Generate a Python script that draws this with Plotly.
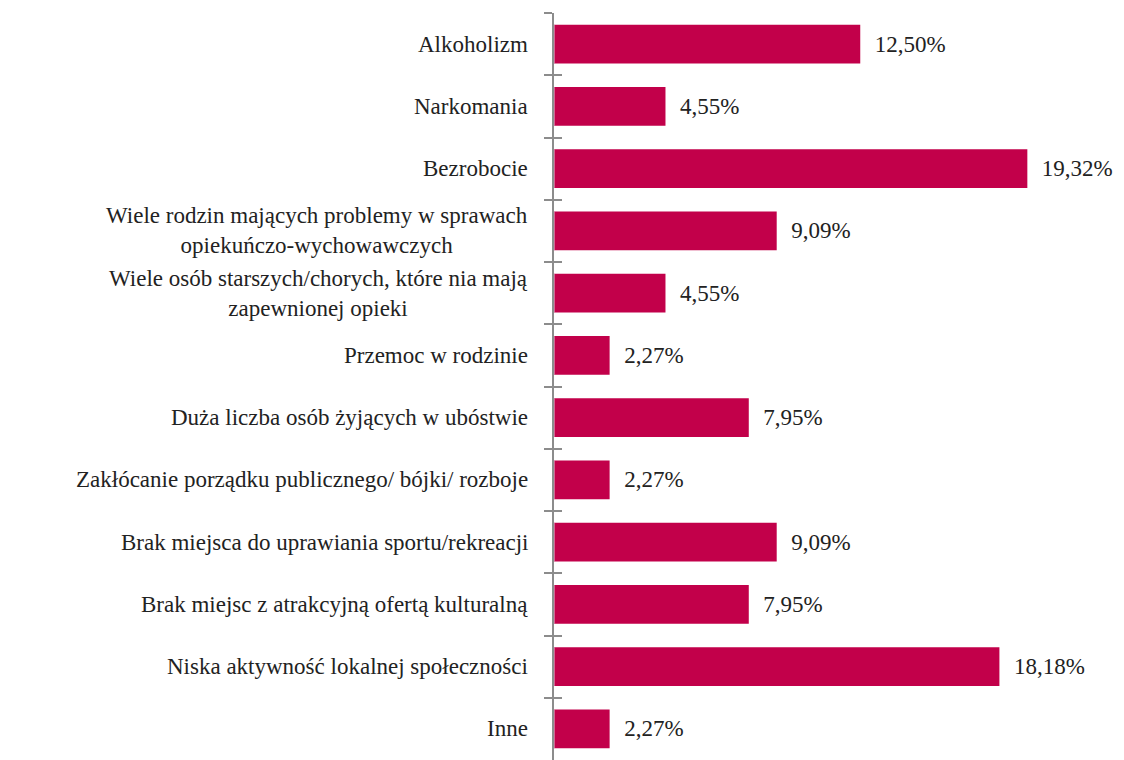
import plotly.graph_objects as go

categories = [
    "Alkoholizm",
    "Narkomania",
    "Bezrobocie",
    "Wiele rodzin mających problemy w sprawach<br>opiekuńczo-wychowawczych",
    "Wiele osób starszych/chorych, które nia mają<br>zapewnionej opieki",
    "Przemoc w rodzinie",
    "Duża liczba osób żyjących w ubóstwie",
    "Zakłócanie porządku publicznego/ bójki/ rozboje",
    "Brak miejsca do uprawiania sportu/rekreacji",
    "Brak miejsc z atrakcyjną ofertą kulturalną",
    "Niska aktywność lokalnej społeczności",
    "Inne",
]
values = [12.50, 4.55, 19.32, 9.09, 4.55, 2.27, 7.95, 2.27, 9.09, 7.95, 18.18, 2.27]
labels = [f"\u00a0\u00a0{v:.2f}%".replace(".", ",") for v in values]

FONT = "Liberation Serif, DejaVu Serif, serif"
BAR = "#C2004A"

fig = go.Figure()
fig.add_trace(go.Bar(
    y=categories, x=values, orientation="h",
    marker=dict(color=BAR, line=dict(width=0)),
    text=labels, textposition="outside", cliponaxis=False,
    textfont=dict(family=FONT, size=23, color="#222"),
    width=0.62,
))
# invisible trace for second axis (crossing ticks)
fig.add_trace(go.Bar(y=categories, x=[0]*len(categories), orientation="h",
                     yaxis="y2", showlegend=False, hoverinfo="skip",
                     marker=dict(color="rgba(0,0,0,0)")))

for c in categories:
    fig.add_annotation(x=0, xref="paper", y=c, yref="y", text=c,
                       xanchor="right", align="center", showarrow=False,
                       xshift=-24, font=dict(family=FONT, size=23, color="#222"))

fig.update_layout(
    width=1124, height=760,
    margin=dict(l=554, r=31, t=13, b=0, autoexpand=False),
    plot_bgcolor="white", paper_bgcolor="white",
    showlegend=False, bargap=0.38,
    xaxis=dict(range=[0, 22], visible=False, fixedrange=True, automargin=False),
    yaxis=dict(type="category", categoryorder="array", categoryarray=categories,
               autorange="reversed", showticklabels=False, automargin=False,
               showline=True, linecolor="#8c8c8c", linewidth=2,
               ticks="outside", tickson="boundaries", ticklen=8,
               tickcolor="#8c8c8c", tickwidth=2, showgrid=False, zeroline=False),
    yaxis2=dict(type="category", categoryorder="array", categoryarray=categories,
                autorange="reversed", overlaying="y", side="left", automargin=False,
                showticklabels=False, showline=False,
                ticks="inside", tickson="boundaries", ticklen=8,
                tickcolor="#8c8c8c", tickwidth=2, showgrid=False, zeroline=False),
)

fig.write_html("out.html", config={"displayModeBar": False},
               post_script="document.body.style.margin='0';document.body.style.overflow='hidden';")
